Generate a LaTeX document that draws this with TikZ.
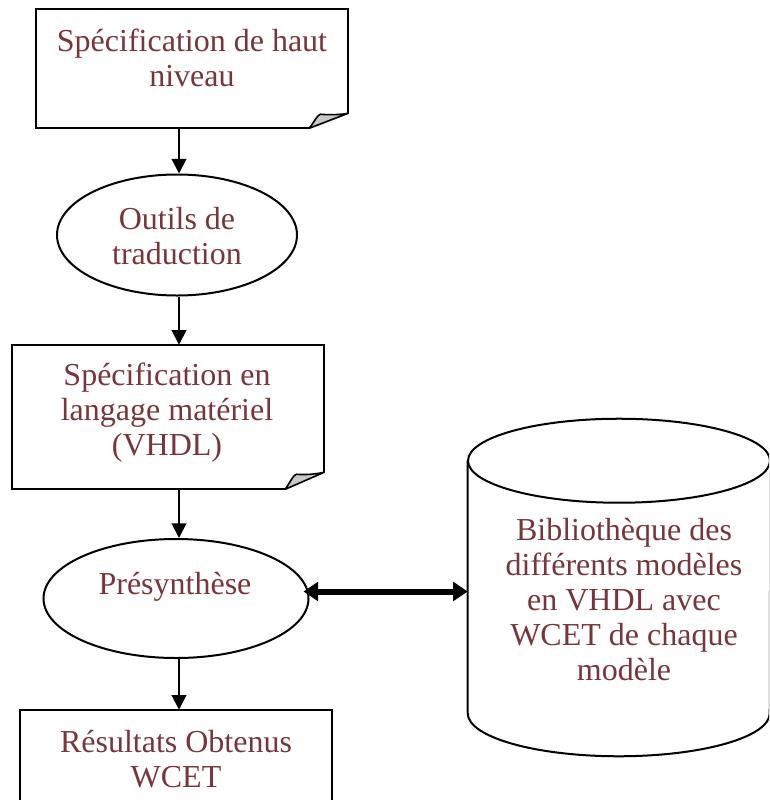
\documentclass[tikz,border=0pt]{standalone}
\usepackage{fontspec}
\setmainfont{Liberation Serif}
\usetikzlibrary{arrows.meta,shapes.geometric}
\definecolor{txt}{RGB}{120,54,58}
\definecolor{foldgray}{RGB}{200,200,200}
\begin{document}
\begin{tikzpicture}[x=0.75pt,y=-0.75pt,
  lbl/.style={text=txt,font=\fontsize{24}{26.25}\selectfont,align=center,inner sep=0pt,anchor=base},
  outline/.style={draw=black,line width=1.5pt,line join=miter},
  flow/.style={line width=1.5pt,-{Triangle[width=11pt,length=11pt]}},
  link/.style={line width=4.5pt,{Triangle[width=14pt,length=11pt]}-{Triangle[width=14pt,length=11pt]}},
  area/.style={draw=none,inner sep=0pt,rectangle},
  oval/.style={draw=black,line width=1.5pt,ellipse,inner sep=0pt},
  foldfill/.style={fill=foldgray,draw=black,line width=1.2pt,line join=round}
]
\useasboundingbox (0,0) rectangle (769,800);
\clip (0,0) rectangle (769,800);

% ---- shapes ----
\node[area,minimum width=234pt,minimum height=89.25pt] (b1) at (192,68.5) {};
\node[oval,minimum width=180pt,minimum height=90.75pt] (e1) at (177,235) {};
\node[area,minimum width=234pt,minimum height=108pt] (b2) at (168,417) {};
\node[oval,minimum width=198.75pt,minimum height=89.25pt] (e2) at (176,598.5) {};
\node[area,minimum width=234pt,minimum height=90pt] (b3) at (176,770) {};
\node[area,minimum width=226.5pt,minimum height=252.75pt] (cyl) at (619,587.5) {};

% document box: high-level specification
\draw[outline] ([shift={(-39,0)}]b1.south east) -- (b1.south west) -- (b1.north west)
  -- (b1.north east) -- ([shift={(0,-15)}]b1.south east);
\draw[foldfill] ([shift={(-39,0)}]b1.south east)
  .. controls ([shift={(-33,-8)}]b1.south east) and ([shift={(-31,-13)}]b1.south east) .. ([shift={(-28,-14)}]b1.south east)
  .. controls ([shift={(-15,-13)}]b1.south east) and ([shift={(-5,-14)}]b1.south east) .. ([shift={(0,-15)}]b1.south east)
  -- cycle;

% document box: hardware-language specification
\draw[outline] ([shift={(-39,0)}]b2.south east) -- (b2.south west) -- (b2.north west)
  -- (b2.north east) -- ([shift={(0,-17)}]b2.south east);
\draw[foldfill] ([shift={(-39,0)}]b2.south east)
  .. controls ([shift={(-33,-9)}]b2.south east) and ([shift={(-31,-14)}]b2.south east) .. ([shift={(-28,-15)}]b2.south east)
  .. controls ([shift={(-15,-14)}]b2.south east) and ([shift={(-5,-16)}]b2.south east) .. ([shift={(0,-17)}]b2.south east)
  -- cycle;

% results box
\draw[outline] (b3.south west) -- (b3.north west) -- (b3.north east) -- (b3.south east);

% model library cylinder
\draw[outline] (cyl.north) ++(0,42) ellipse [x radius=151, y radius=42];
\draw[outline] ([shift={(0,42)}]cyl.north west) -- ([shift={(0,-43)}]cyl.south west)
  arc [start angle=180, end angle=0, x radius=151, y radius=43]
  -- ([shift={(0,42)}]cyl.north east);

% ---- texts (positioned by the baseline of their last line) ----
\node[lbl] (t1) at (192,86) {Spécification de haut\\niveau};
\node[lbl] (t2) at (177,264) {Outils de\\traduction};
\node[lbl] (t3) at (167,455) {Spécification en\\langage matériel\\(VHDL)};
\node[lbl] (t4) at (175,594) {Présynthèse};
\node[lbl] (t5) at (176,787) {Résultats Obtenus\\WCET};
\node[lbl] (t6) at (624,680) {Bibliothèque des\\différents modèles\\en VHDL avec\\WCET de chaque\\modèle};

% ---- connectors ----
\draw[flow] (b1.south -| 179,0) -- (e1.north -| 179,0);
\draw[flow] (e1.south -| 179,0) -- (b2.north -| 179,0);
\draw[flow] (b2.south -| 179,0) -- (e2.north -| 179,0);
\draw[flow] (e2.south -| 179,0) -- (b3.north -| 179,0);
\draw[link] ([shift={(-6,-7)}]e2.east) coordinate (la) -- (cyl.west |- la);
\end{tikzpicture}
\end{document}
